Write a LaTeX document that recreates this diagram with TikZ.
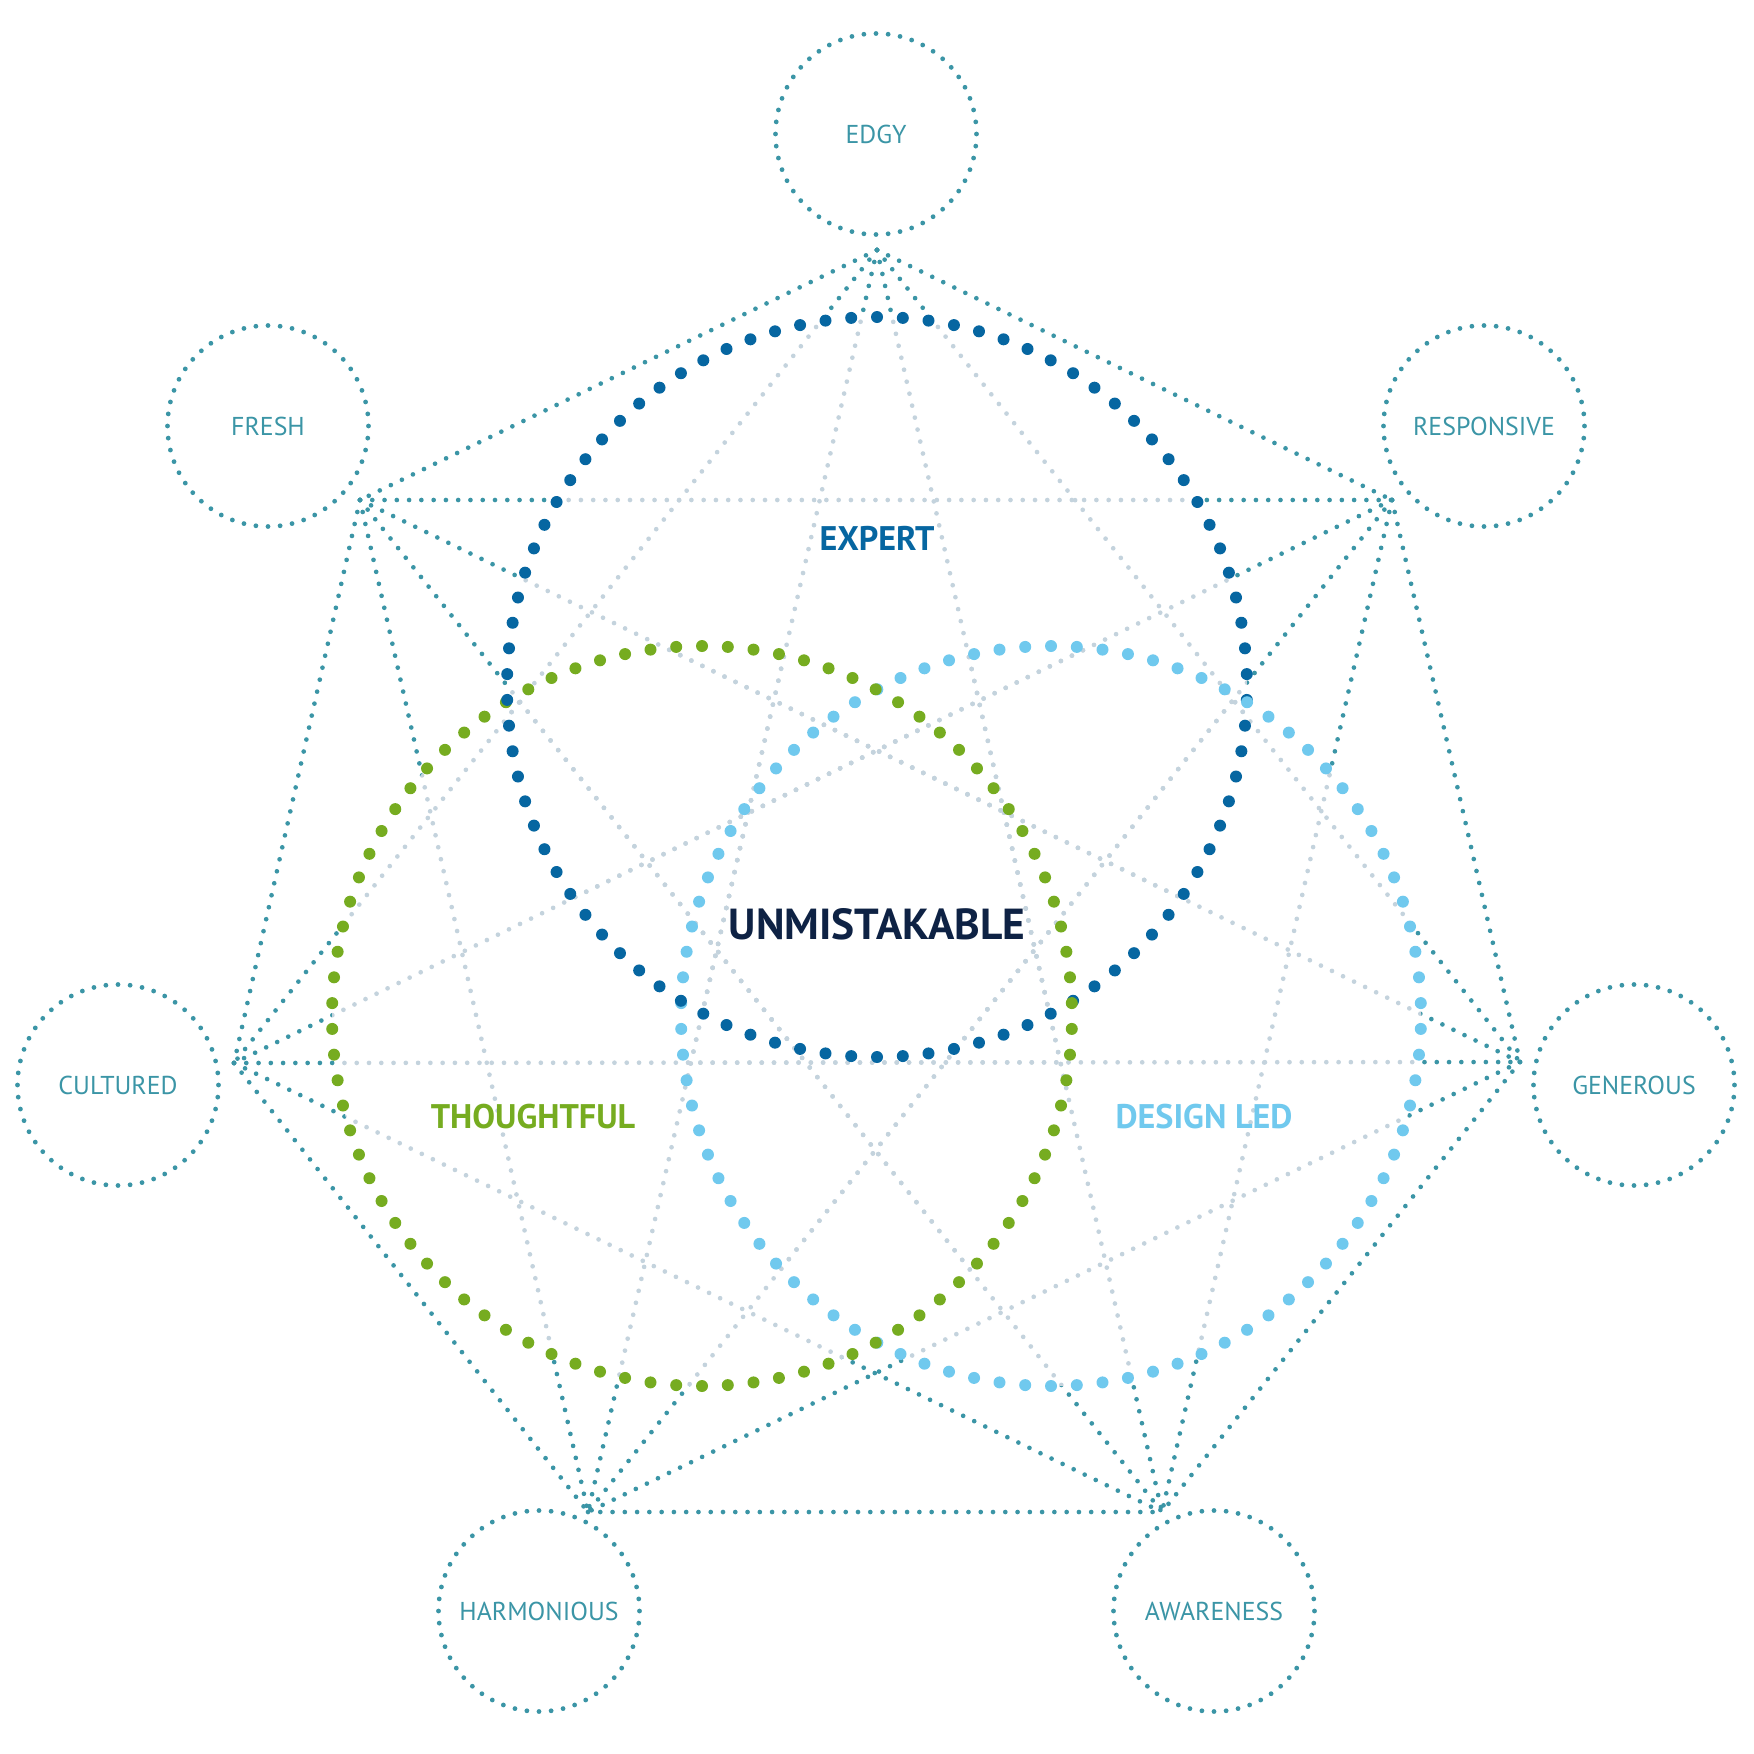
\documentclass[tikz,border=0pt]{standalone}
\usepackage{fontspec}
\usetikzlibrary{calc}
\setmainfont{PT Sans}
\definecolor{tealc}{RGB}{59,149,166}
\definecolor{grayc}{RGB}{196,211,221}
\definecolor{bluec}{RGB}{6,102,161}
\definecolor{greenc}{RGB}{118,172,32}
\definecolor{lightc}{RGB}{112,201,238}
\definecolor{navyc}{RGB}{14,34,68}
\tikzset{
  linkline/.style={line width=1.33pt, line cap=round, dash pattern=on 0pt off 3.49pt},
  tealline/.style={linkline, tealc},
  grayline/.style={linkline, grayc},
  smalllabel/.style={text=tealc, font=\fontsize{7.35}{8}\selectfont, inner sep=0pt},
  biglabel/.style={font=\bfseries\fontsize{9.7}{11}\selectfont, inner sep=0pt},
  mainlabel/.style={text=navyc, font=\bfseries\fontsize{12.35}{14}\selectfont, inner sep=0pt}
}
\newcommand{\alllinks}[1]{%
  \foreach \p/\q in {vT/vFR, vT/vR, vT/vC, vT/vG, vT/vH, vT/vA,
                     vFR/vR, vFR/vC, vFR/vG, vFR/vH, vFR/vA,
                     vR/vC, vR/vG, vR/vH, vR/vA,
                     vC/vG, vC/vH, vC/vA,
                     vG/vH, vG/vA, vH/vA}
    {\draw[#1] (\p) -- (\q);}%
}
\begin{document}
\begin{tikzpicture}[x=0.01cm, y=-0.01cm]
\useasboundingbox (0,0) rectangle (1754,1754);
% heptagon vertices
\coordinate (vT) at (877,250);
\coordinate (vFR) at (360,500);
\coordinate (vR) at (1392,500);
\coordinate (vC) at (234,1063);
\coordinate (vG) at (1520,1062);
\coordinate (vH) at (588,1512);
\coordinate (vA) at (1162,1512);
% big circle centres
\coordinate (cBlue) at (877,687);
\coordinate (cGreen) at (702,1016);
\coordinate (cLight) at (1051,1016);
% teal connectors
\alllinks{tealline}
% inside the three big circles the connectors are pale
\fill[white] (cBlue) circle[radius=370] (cGreen) circle[radius=370] (cLight) circle[radius=370];
\foreach \c in {cBlue, cGreen, cLight}{
  \begin{scope}
    \clip (\c) circle[radius=370];
    \alllinks{grayline}
  \end{scope}
}
% big dotted circles
\foreach \i in {0,...,89}{
  \pgfmathsetmacro{\ang}{90+\i*4}
  \fill[greenc] ($(cGreen)+({370*cos(\ang)},{-370*sin(\ang)})$) circle[radius=6];
  \fill[lightc] ($(cLight)+({370*cos(\ang)},{-370*sin(\ang)})$) circle[radius=6];
  \fill[bluec] ($(cBlue)+({370*cos(\ang)},{-370*sin(\ang)})$) circle[radius=6];
}
% small outer circles with labels
\foreach \n/\x/\y/\t in {edgy/876/134/EDGY, fresh/268/426/FRESH, responsive/1484/426/RESPONSIVE,
    cultured/118/1085/CULTURED, generous/1634/1085/GENEROUS,
    harmonious/539/1611/HARMONIOUS, awareness/1214/1611/AWARENESS}{
  \node[smalllabel] (\n) at (\x,\y) {\t};
  \foreach \i in {0,...,51}{
    \pgfmathsetmacro{\bng}{\i*6.923077}
    \fill[tealc] ({\x+100.5*cos(\bng)},{\y-100.5*sin(\bng)}) circle[radius=2.4];
  }
}
% main labels
\node[biglabel, text=bluec] (expert) at (877,538) {EXPERT};
\node[mainlabel] (unmist) at (877,924) {UNMISTAKABLE};
\node[biglabel, text=greenc] (thoughtful) at (533,1117) {THOUGHTFUL};
\node[biglabel, text=lightc] (designled) at (1204,1117) {DESIGN LED};
\end{tikzpicture}
\end{document}
